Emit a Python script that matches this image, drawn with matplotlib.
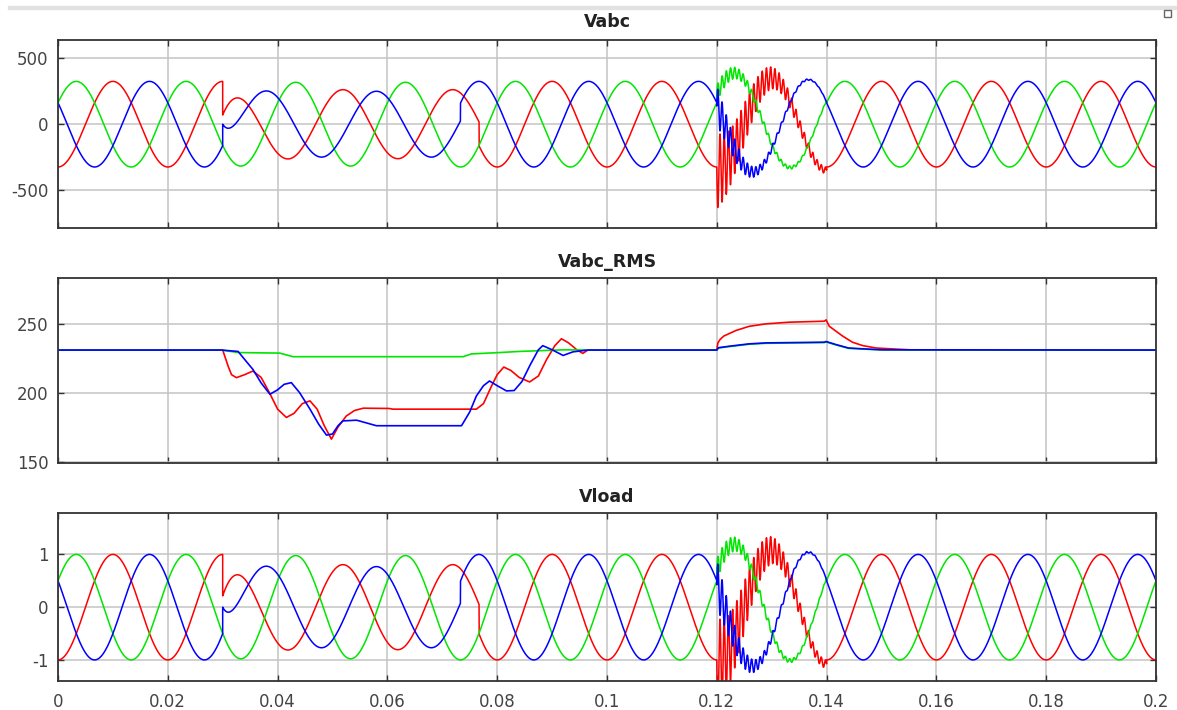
import numpy as np
import matplotlib
matplotlib.use("Agg")
import matplotlib.pyplot as plt
from matplotlib.patches import Rectangle
from matplotlib.ticker import FuncFormatter

plt.rcParams["axes.unicode_minus"] = False

# ---------------- data ----------------
F_HZ = 50.0
V_PEAK = 325.0                       # nominal phase peak (V)
phase_colors = ["#ff0000", "#00e600", "#0000ff"]   # a, b, c
normal_peak_t = [0.0100, 0.00333, 0.01667]          # time of a positive peak (s)

# voltage sag (per phase)
sag_start = [0.0300, 0.0300, 0.0300]
sag_end = [0.0767, 0.0700, 0.0733]
sag_amp = [262.0, 318.0, 250.0]
sag_peak_t = [0.0119, 0.0033, 0.0180]
sag_dc0 = [-147.0, 0.0, 202.0]
sag_dc_tau = [0.0027, 0.0030, 0.0018]

# voltage swell with ripple
swell_start = 0.1200
swell_end = 0.1400
swell_amp = [350.0, 345.0, 345.0]
swell_dc0 = [0.0, 60.0, -35.0]
swell_dc_tau = [0.010, 0.010, 0.010]
ripple_amp0 = [290.0, 65.0, 150.0]
ripple_tau = [0.008, 0.008, 0.005]
ripple_sign = [-1.0, 1.0, 1.0]
RIPPLE_HZ = 1300.0

# RMS traces (time s, value V)
rms_red_t = [0.0, 0.0300, 0.0310, 0.0316, 0.0325, 0.0340, 0.0355, 0.0370, 0.0385,
             0.0400, 0.0416, 0.0430, 0.0445, 0.0459, 0.0472, 0.0485, 0.0498, 0.0510,
             0.0525, 0.0540, 0.0556, 0.0603, 0.0610, 0.0762, 0.0775, 0.0790, 0.0800,
             0.0812, 0.0825, 0.0840, 0.0859, 0.0875, 0.0890, 0.0905, 0.0917, 0.0930,
             0.0945, 0.0956, 0.0965, 0.1200, 0.1202, 0.1206, 0.1213, 0.1235, 0.1259,
             0.1290, 0.1332, 0.1396, 0.1399, 0.1405, 0.1417, 0.1429, 0.1447, 0.1466,
             0.1490, 0.1526, 0.1560, 0.2000]
rms_red_v = [230.8, 230.8, 219.0, 213.0, 210.8, 213.0, 215.6, 211.0, 200.0,
             188.0, 182.0, 185.0, 192.0, 194.0, 188.0, 176.0, 166.3, 175.0,
             183.0, 187.0, 188.7, 188.5, 188.0, 188.0, 192.0, 205.0, 213.0,
             218.5, 216.0, 211.0, 207.7, 212.0, 224.0, 234.0, 239.0, 236.0,
             231.0, 228.4, 230.8, 230.8, 236.0, 238.5, 241.0, 245.0, 248.0,
             249.8, 251.0, 251.7, 252.7, 248.0, 244.5, 241.0, 236.5, 234.0,
             232.3, 231.5, 230.8, 230.8]

rms_green_t = [0.0, 0.0298, 0.0328, 0.0404, 0.0428, 0.0738, 0.0753, 0.0804, 0.0840,
               0.0922, 0.0965, 0.1200, 0.1203, 0.1223, 0.1259, 0.1290, 0.1396, 0.1399,
               0.1417, 0.1440, 0.1466, 0.1500, 0.2000]
rms_green_v = [230.8, 230.8, 229.0, 228.6, 226.0, 226.0, 228.0, 229.0, 229.8,
               231.0, 230.8, 230.8, 232.3, 233.3, 235.0, 235.7, 236.2, 236.7,
               234.5, 232.0, 231.5, 230.9, 230.8]

rms_blue_t = [0.0, 0.0298, 0.0328, 0.0340, 0.0355, 0.0370, 0.0386, 0.0400, 0.0412,
              0.0425, 0.0440, 0.0459, 0.0475, 0.0489, 0.0500, 0.0510, 0.0519, 0.0544,
              0.0580, 0.0735, 0.0750, 0.0762, 0.0775, 0.0786, 0.0800, 0.0817, 0.0831,
              0.0845, 0.0860, 0.0875, 0.0883, 0.0900, 0.0920, 0.0938, 0.0965, 0.1200,
              0.1203, 0.1223, 0.1259, 0.1290, 0.1396, 0.1399, 0.1417, 0.1440, 0.1466,
              0.1500, 0.2000]
rms_blue_v = [230.8, 230.8, 229.8, 224.0, 216.8, 207.0, 198.8, 202.0, 206.0,
              207.2, 200.0, 188.0, 177.0, 169.2, 170.0, 176.0, 179.5, 180.0,
              176.0, 176.0, 186.0, 197.5, 205.0, 208.4, 205.0, 201.2, 201.5,
              208.0, 220.0, 231.0, 234.0, 231.0, 226.9, 229.5, 230.8, 230.8,
              232.5, 233.6, 235.3, 236.0, 236.5, 237.0, 234.8, 232.3, 231.7,
              231.0, 230.8]

x_ticks = [0, 0.02, 0.04, 0.06, 0.08, 0.1, 0.12, 0.14, 0.16, 0.18, 0.2]
vabc_yticks = [-500, 0, 500]
rms_yticks = [150, 200, 250]
vload_yticks = [-1, 0, 1]
titles = ["Vabc", "Vabc_RMS", "Vload"]

# ---------------- build the phase waveforms ----------------
w = 2 * np.pi * F_HZ
t = np.linspace(0.0, 0.2, 40001)
vabc = []
for k in range(3):
    v = V_PEAK * np.cos(w * (t - normal_peak_t[k]))
    m = (t >= sag_start[k]) & (t < sag_end[k])
    ts = t[m]
    v[m] = (sag_amp[k] * np.cos(w * (ts - sag_peak_t[k]))
            + sag_dc0[k] * np.exp(-(ts - sag_start[k]) / sag_dc_tau[k]))
    m = (t >= swell_start) & (t < swell_end)
    ts = t[m]
    d = ts - swell_start
    v[m] = (swell_amp[k] * np.cos(w * (ts - normal_peak_t[k]))
            + swell_dc0[k] * np.exp(-d / swell_dc_tau[k])
            + ripple_sign[k] * ripple_amp0[k] * np.exp(-d / ripple_tau[k])
            * np.sin(2 * np.pi * RIPPLE_HZ * d))
    vabc.append(v)
vload = [v / V_PEAK for v in vabc]

# ---------------- figure ----------------
W, H = 1177, 710
fig = plt.figure(figsize=(W / 100, H / 100), dpi=100)
fig.patches.append(Rectangle((8 / W, 1 - 9 / H), 1 - 8 / W, 3 / H,
                             transform=fig.transFigure, color="#e2e2e2", zorder=0))
fig.patches.append(Rectangle((1164 / W, 1 - 17 / H), 7 / W, 7 / H, transform=fig.transFigure,
                             fill=False, edgecolor="#666666", lw=1.0))

left, right = 58, 1156
boxes = [(40, 228), (278, 463), (513, 680.5)]
axes = []
for (top, bot) in boxes:
    ax = fig.add_axes([left / W, 1 - bot / H, (right - left) / W, (bot - top) / H])
    axes.append(ax)

# Vabc
ax = axes[0]
for k in range(3):
    ax.plot(t, vabc[k], color=phase_colors[k], lw=1.1)
ax.set_ylim(-788, 639)
ax.set_yticks(vabc_yticks)

# RMS
ax = axes[1]
ax.plot(rms_red_t, rms_red_v, color=phase_colors[0], lw=1.2)
ax.plot(rms_green_t, rms_green_v, color=phase_colors[1], lw=1.2)
ax.plot(rms_blue_t, rms_blue_v, color=phase_colors[2], lw=1.2)
ax.set_ylim(149, 283)
ax.set_yticks(rms_yticks)

# Vload
ax = axes[2]
for k in range(3):
    ax.plot(t, vload[k], color=phase_colors[k], lw=1.1)
ax.set_ylim(-1.39, 1.785)
ax.set_yticks(vload_yticks)

for i, ax in enumerate(axes):
    ax.set_xlim(0, 0.2)
    ax.set_xticks(x_ticks)
    ax.grid(True, color="#c4c4c4", lw=1.1)
    ax.set_axisbelow(True)
    ax.tick_params(direction="in", length=4, width=1, color="#333333",
                   top=True, right=True, labelsize=12, labelcolor="#444444", pad=7)
    for s in ax.spines.values():
        s.set_color("#333333")
        s.set_linewidth(1.3)
    if i < 2:
        ax.tick_params(labelbottom=False)
    else:
        ax.xaxis.set_major_formatter(FuncFormatter(lambda x, p: "%g" % x))
        ax.tick_params(axis="x", pad=9)

title_y = [22, 262, 497]
for ty, txt in zip(title_y, titles):
    fig.text((left + right) / 2 / W, 1 - ty / H, txt, ha="center", va="center",
             fontsize=12.5, fontweight="bold", color="#222222")

fig.savefig("out.png", dpi=100)
